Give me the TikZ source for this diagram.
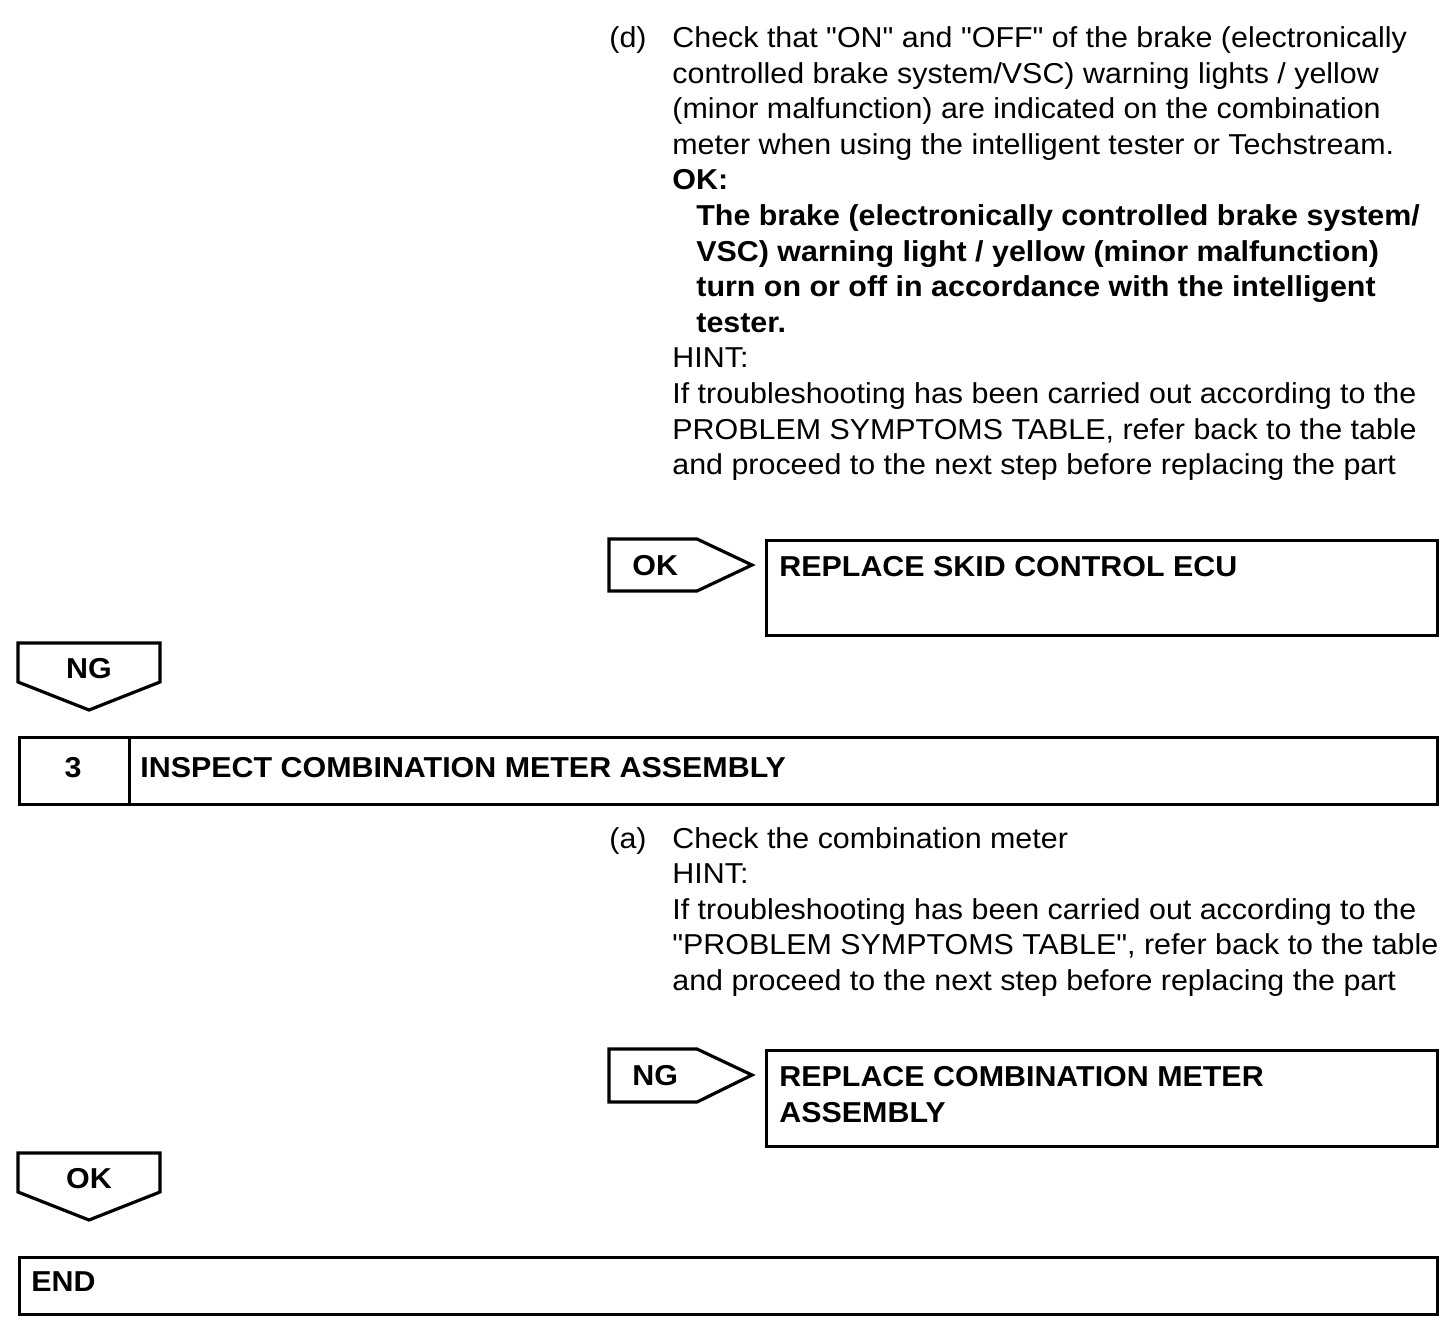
\documentclass[tikz,border=0pt]{standalone}
\usepackage{fontspec}
\setmainfont{Liberation Sans}[Ligatures=TeXOff,FakeStretch=1.056]
\begin{document}
\begin{tikzpicture}[x=0.5pt,y=-0.5pt,
  txt/.style={anchor=base west,inner sep=0pt,font=\fontsize{14.4}{17}\selectfont},
  btxt/.style={txt,font=\fontsize{14.4}{17}\selectfont\bfseries},
  frame/.style={draw,line width=1.6pt,line join=miter},
  boxn/.style={frame,anchor=north west,inner sep=0pt}]
\useasboundingbox (0,0) rectangle (1456,1334);
% ---------- section (d)
\node[txt] (dl) at (609,47.5) {(d)};
\node[txt] (d0) at (672,47.5) {Check that "ON" and "OFF" of the brake (electronically};
\node[txt] (d1) at (672,83.1) {controlled brake system/VSC) warning lights / yellow};
\node[txt] (d2) at (672,118.7) {(minor malfunction) are indicated on the combination};
\node[txt] (d3) at (672,154.3) {meter when using the intelligent tester or Techstream.};
\node[btxt] (d4) at (672,189.9) {OK:};
\node[btxt] (d5) at (696,225.5) {The brake (electronically controlled brake system/};
\node[btxt] (d6) at (696,261.1) {VSC) warning light / yellow (minor malfunction)};
\node[btxt] (d7) at (696,296.7) {turn on or off in accordance with the intelligent};
\node[btxt] (d8) at (696,332.3) {tester.};
\node[txt] (d9) at (672,367.9) {HINT:};
\node[txt] (d10) at (672,403.5) {If troubleshooting has been carried out according to the};
\node[txt] (d11) at (672,439.1) {PROBLEM SYMPTOMS TABLE, refer back to the table};
\node[txt] (d12) at (672,474.7) {and proceed to the next step before replacing the part};
% OK -> replace skid control ECU
\draw[frame] (609,539) -- (697,539) -- (752,565) -- (697,591) -- (609,591) -- cycle;
\node[btxt] (okA) at (632,575) {OK};
\node[boxn,minimum width=671*0.5pt,minimum height=95*0.5pt] (repA) at (765,539) {};
\node[btxt] (repAt) at (779,576) {REPLACE SKID CONTROL ECU};
% NG down
\draw[frame] (18,643) -- (160,643) -- (160,682) -- (89,710) -- (18,682) -- cycle;
\node[btxt,anchor=base] (ngA) at (89,678) {NG};
% step 3
\node[boxn,minimum width=110*0.5pt,minimum height=67*0.5pt] (s3n) at (18,736) {};
\node[boxn,minimum width=1308*0.5pt,minimum height=67*0.5pt] (s3t) at (128,736) {};
\node[btxt,anchor=base] (s3num) at (73,777) {3};
\node[btxt] (s3lab) at (140,777) {INSPECT COMBINATION METER ASSEMBLY};
% ---------- section (a)
\node[txt] (al) at (609,848) {(a)};
\node[txt] (a0) at (672,848) {Check the combination meter};
\node[txt] (a1) at (672,883.6) {HINT:};
\node[txt] (a2) at (672,919.2) {If troubleshooting has been carried out according to the};
\node[txt] (a3) at (672,954.8) {"PROBLEM SYMPTOMS TABLE", refer back to the table};
\node[txt] (a4) at (672,990.4) {and proceed to the next step before replacing the part};
% NG -> replace combination meter
\draw[frame] (609,1049) -- (697,1049) -- (752,1075) -- (697,1102) -- (609,1102) -- cycle;
\node[btxt] (ngB) at (632,1085) {NG};
\node[boxn,minimum width=671*0.5pt,minimum height=96*0.5pt] (repB) at (765,1049) {};
\node[btxt] (repBt1) at (779,1086) {REPLACE COMBINATION METER};
\node[btxt] (repBt2) at (779,1122) {ASSEMBLY};
% OK down
\draw[frame] (18,1153) -- (160,1153) -- (160,1192) -- (89,1220) -- (18,1192) -- cycle;
\node[btxt,anchor=base] (okB) at (89,1188) {OK};
% END
\node[boxn,minimum width=1418*0.5pt,minimum height=57*0.5pt] (endb) at (18,1256) {};
\node[btxt] (endt) at (31,1291) {END};
\end{tikzpicture}
\end{document}
